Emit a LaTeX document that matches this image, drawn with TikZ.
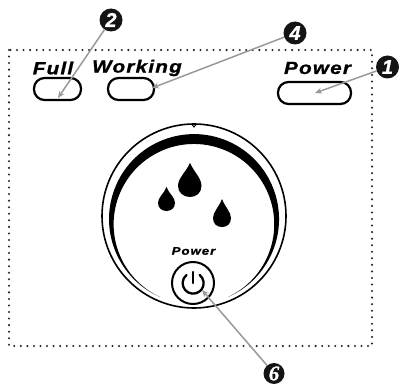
\documentclass[tikz,border=0pt]{standalone}
\usepackage{fontspec}
\usetikzlibrary{arrows.meta}
\newfontfamily\lab[LetterSpace=7,FakeStretch=1.18,FakeBold=1.2]{Liberation Sans}
\newfontfamily\labsmall[LetterSpace=9,FakeStretch=1.2,FakeBold=1.2]{Liberation Sans}
\newfontfamily\badgefont[FakeBold=1]{Liberation Sans}
\newfontfamily\badgeserif[FakeBold=1]{Liberation Serif}
\begin{document}
\begin{tikzpicture}[x=1pt,y=-1pt,
  pill/.style={draw=black,line width=2.2pt,rounded corners=10.5pt},
  labeltext/.style={inner sep=0pt,font=\lab\bfseries\itshape\fontsize{17.5}{18}\selectfont},
  badge/.style={circle,fill=black!92,inner sep=0pt,minimum size=23pt,text=white,font=\badgefont\bfseries\itshape\fontsize{20}{20}\selectfont},
  leader/.style={draw=black!40,line width=1.5pt,-{Stealth[length=7pt,width=6pt]}}]
\useasboundingbox (0,0) rectangle (399,385);
\fill[white] (0,0) rectangle (399,385);
\draw[line width=2.3pt,line cap=round,dash pattern=on 0pt off 6.55pt,black!85] (9,50) rectangle (372,346);
% indicator lamps
\draw[pill] (34,78) rectangle (81,100);
\draw[pill] (108,78) rectangle (154,100);
\draw[pill] (278,82) rectangle (351,104);
\node[labeltext] (full) at (53,68) {Full};
\node[labeltext] (working) at (137,68) {Working};
\node[labeltext] (power) at (317.5,68) {Power};
% dial
\draw[line width=1.6pt] (194,216) circle (92);
\draw[line width=1pt] (192,124.5)--(194,127)--(196,124.5);
\fill (160,297) arc (113.6:426.4:85) -- (228,297) arc (424.9:115.1:80.3) -- cycle;
% drops
\fill (190,163) .. controls (186,172) and (178,178) .. (178,186) .. controls (178,193) and (184,197) .. (190,197) .. controls (196,197) and (201.5,193) .. (201.5,186) .. controls (201.5,178) and (194,172) .. (190,163) -- cycle;
\fill (166.5,187) .. controls (164,194) and (158,197) .. (158,203) .. controls (158,208) and (162,211) .. (166.5,211) .. controls (171,211) and (175,208) .. (175,203) .. controls (175,197) and (169,194) .. (166.5,187) -- cycle;
\fill (222,199) .. controls (219,207) and (213,212) .. (213,218) .. controls (213,224) and (217,227) .. (222,227) .. controls (227,227) and (231,224) .. (231,218) .. controls (231,212) and (225,207) .. (222,199) -- cycle;
\node[inner sep=0pt,font=\labsmall\bfseries\itshape\fontsize{11}{11}\selectfont] (powersmall) at (193.5,251) {Power};
% power button
\draw[line width=2pt] (193,283) circle (21);
\draw[line width=2.3pt,line cap=round] (186.5,275) arc (231:-51:10.5);
\draw[line width=2.3pt,line cap=round] (193,272) -- (193,283);
% badges and leaders
\coordinate (t2) at (58,98);
\coordinate (t4) at (152,88);
\coordinate (t1) at (315,93);
\coordinate (t6) at (202,290);
\node[badge] (b2) at (111,20) {2};
\node[badge] (b4) at (295,33) {4};
\node[badge] (b1) at (387.5,67) {1};
\node[badge,minimum size=21pt,font=\badgeserif\bfseries\itshape\fontsize{21}{21}\selectfont] (b6) at (274,373.5) {6};
\draw[leader] (b2) -- (t2);
\draw[leader] (b4) -- (t4);
\draw[leader] (b1) -- (t1);
\draw[leader] (b6) -- (t6);
\end{tikzpicture}
\end{document}
